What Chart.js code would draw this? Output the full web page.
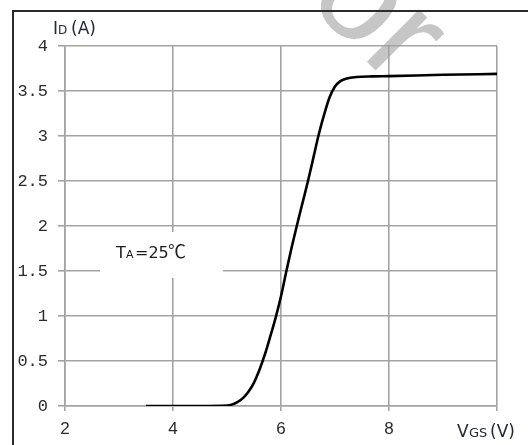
<!DOCTYPE html>
<html>
<head>
<meta charset="utf-8">
<script src="https://cdn.jsdelivr.net/npm/chart.js@4/dist/chart.umd.min.js"></script>
<style>
  body { margin: 0; background: #fff; }
  #wrap { width: 528px; height: 445px; }
</style>
</head>
<body>
<div id="wrap"><canvas id="myChart" width="528" height="445"></canvas></div>
<script>
// transfer characteristic
var vgs = [3.5, 4.0, 4.5, 5.0, 5.1, 5.2, 5.3, 5.4, 5.5, 5.6, 5.7, 5.8, 5.9, 6.0, 6.1, 6.2, 6.3, 6.4, 6.5, 6.6, 6.7, 6.8, 6.9, 7.0, 7.1, 7.2, 7.4, 7.7, 8.0, 9.0, 10.0];
var idA = [0, 0, 0, 0.005, 0.018, 0.045, 0.09, 0.16, 0.26, 0.4, 0.57, 0.77, 0.98, 1.22, 1.5, 1.77, 2.02, 2.26, 2.5, 2.76, 3.02, 3.24, 3.43, 3.55, 3.61, 3.635, 3.655, 3.662, 3.665, 3.68, 3.69];
var xTicks = [2, 4, 6, 8];
var yTicks = [0, 0.5, 1, 1.5, 2, 2.5, 3, 3.5, 4];

var points = vgs.map(function (v, i) { return { x: v, y: idA[i] }; });

var gridColor = '#a3a3a3';
var textColor = '#2b2b2b';

function drawParts(ctx, parts, baseline) {
    parts.forEach(function (p) {
        ctx.font = p[2] + 'px ' + (p[3] || '"DejaVu Sans", Verdana, sans-serif');
        ctx.fillText(p[0], p[1], baseline);
    });
}

var extras = {
    id: 'extras',
    beforeDraw: function (chart) {
        var ctx = chart.ctx;
        ctx.save();
        ctx.fillStyle = '#fff';
        ctx.fillRect(0, 0, chart.width, chart.height);
        // faint watermark
        ctx.translate(305, 0);
        ctx.rotate(Math.PI / 4);
        ctx.fillStyle = '#c6c6c6';
        ctx.font = '140px "Liberation Sans", Arial, sans-serif';
        ctx.textBaseline = 'alphabetic';
        ctx.fillText('or', 0, 0);
        ctx.restore();
    },
    afterDraw: function (chart) {
        var ctx = chart.ctx;
        ctx.save();
        // outer frame
        ctx.strokeStyle = '#2a2a2a';
        ctx.lineWidth = 2;
        ctx.beginPath();
        ctx.moveTo(528, 11);
        ctx.lineTo(13, 11);
        ctx.lineTo(13, 445);
        ctx.stroke();

        // annotation box
        ctx.fillStyle = '#fff';
        ctx.fillRect(100, 232, 123, 46);
        ctx.fillStyle = '#1c1c1c';
        ctx.textBaseline = 'alphabetic';
        drawParts(ctx, [['T', 116, 16], ['A', 126, 11], ['=25', 135, 16], ['\u2103', 168, 18, '"Noto Sans CJK SC", sans-serif']], 258);

        // axis titles
        ctx.fillStyle = '#222a33';
        drawParts(ctx, [['I', 53, 17], ['D', 58, 12], ['(A)', 71, 17]], 34);
        drawParts(ctx, [['V', 457, 17], ['GS', 469, 13], ['(V)', 490, 17]], 437);
        ctx.restore();
    }
};

var ctx = document.getElementById('myChart').getContext('2d');
var myChart = new Chart(ctx, {
    type: 'line',
    data: {
        datasets: [{
            data: points,
            borderColor: '#000',
            borderWidth: 2.6,
            pointRadius: 0,
            fill: false,
            cubicInterpolationMode: 'monotone'
        }]
    },
    options: {
        responsive: false,
        animation: false,
        layout: { padding: { top: 46, right: 31, left: 0, bottom: 0 } },
        plugins: {
            legend: { display: false },
            tooltip: { enabled: false }
        },
        scales: {
            x: {
                type: 'linear',
                min: 2,
                max: 10,
                afterFit: function (scale) { scale.height = 39; },
                afterBuildTicks: function (scale) {
                    scale.ticks = [2, 4, 6, 8, 10].map(function (v) { return { value: v }; });
                },
                ticks: {
                    padding: 8,
                    color: textColor,
                    font: { family: '"Liberation Sans", Arial, sans-serif', size: 17 },
                    maxRotation: 0,
                    callback: function (v) { return xTicks.indexOf(v) >= 0 ? String(v) : ''; }
                },
                grid: { color: gridColor, lineWidth: 1.6, tickLength: 5 },
                border: { color: gridColor, width: 1.6 }
            },
            y: {
                min: 0,
                max: 4,
                afterFit: function (scale) { scale.width = 65; },
                afterBuildTicks: function (scale) {
                    scale.ticks = yTicks.map(function (v) { return { value: v }; });
                },
                ticks: {
                    padding: 10,
                    color: textColor,
                    font: { family: '"Liberation Mono", monospace', size: 17 },
                    callback: function (v) { return String(v); }
                },
                grid: { color: gridColor, lineWidth: 1.6, tickLength: 7 },
                border: { color: gridColor, width: 1.6 }
            }
        }
    },
    plugins: [extras]
});
</script>
</body>
</html>
